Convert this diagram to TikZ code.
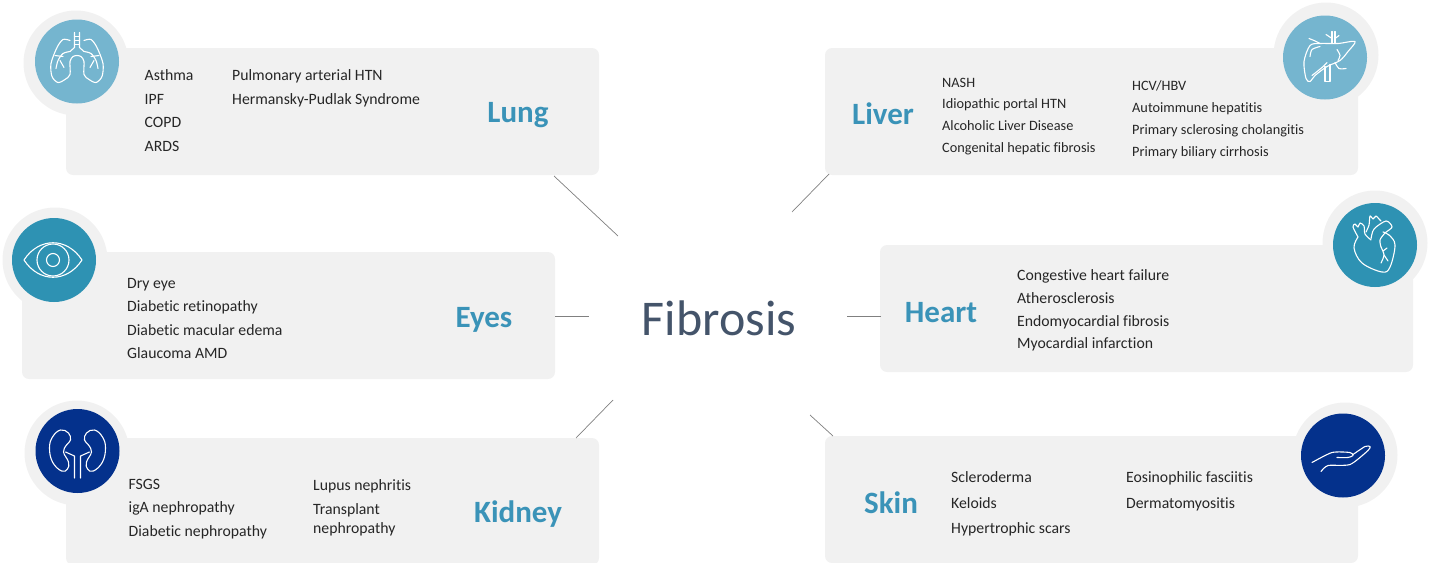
\documentclass[tikz,border=0pt]{standalone}
\usepackage{fontspec}
\setmainfont[Ligatures=NoCommon]{Carlito}
\usepackage{xcolor}
\usepackage{tikz}
\definecolor{panelgrey}{HTML}{F1F1F1}
\definecolor{lightteal}{HTML}{75B5CF}
\definecolor{midteal}{HTML}{2E92B3}
\definecolor{deepblue}{HTML}{04318C}
\definecolor{organblue}{HTML}{3A93B8}
\definecolor{slatetext}{HTML}{44546A}
\definecolor{itemtext}{HTML}{262626}
\tikzset{
  panel/.style   = {rounded corners=7pt, fill=panelgrey, draw=none, inner sep=0pt,
                    minimum width=533pt, minimum height=127pt},
  halo/.style    = {circle, fill=panelgrey, draw=none, inner sep=0pt, minimum size=105pt},
  disc/.style    = {circle, draw=none, inner sep=0pt, minimum size=84pt},
  icon/.style    = {draw=white, line width=1.1pt, line join=round, line cap=round},
  item/.style    = {anchor=west, inner sep=0pt, text=itemtext, text height=10pt, text depth=3pt,
                    font=\fontsize{15.75}{18}\selectfont},
  itemsm/.style  = {item, font=\fontsize{14.3}{17}\selectfont},
  organ/.style   = {inner sep=0pt, text=organblue, font=\fontsize{31}{36}\selectfont\bfseries},
  spoke/.style   = {draw=black!50, line width=0.7pt},
}
\begin{document}
\begin{tikzpicture}[x=1pt,y=-1pt]
  \useasboundingbox (0,0) rectangle (1431,562);
  \clip (0,0) rectangle (1431,562);
  % panels
  \node[panel] (lungbox)   at (332.5,111.5) {};
  \node[panel] (liverbox)  at (1091.5,111.5) {};
  \node[panel] (eyesbox)   at (288.5,315.5) {};
  \node[panel] (heartbox)  at (1146.5,308.5) {};
  \node[panel] (kidneybox) at (332.5,501.5) {};
  \node[panel] (skinbox)   at (1091.5,499.5) {};
  % discs
  \node[halo] (lunghalo)   at (76,63) {};
  \node[halo] (liverhalo)  at (1326,55) {};
  \node[halo] (eyeshalo)   at (55,260) {};
  \node[halo] (hearthalo)  at (1375,243) {};
  \node[halo] (kidneyhalo) at (77,453) {};
  \node[halo] (skinhalo)   at (1345,455) {};
  \node[disc, fill=lightteal] (lungdisc)   at (77,61.5) {};
  \node[disc, fill=lightteal] (liverdisc)  at (1325,57.5) {};
  \node[disc, fill=midteal]   (eyesdisc)   at (54,260) {};
  \node[disc, fill=midteal]   (heartdisc)  at (1375,245) {};
  \node[disc, fill=deepblue]  (kidneydisc) at (77.5,451) {};
  \node[disc, fill=deepblue]  (skindisc)   at (1343,455.5) {};
  % lung icon
  \begin{scope}[shift={(lungdisc.center)}, icon]
    \foreach \s in {1,-1} {
      \begin{scope}[xscale=\s]
        \draw plot[smooth] coordinates {(-7,-21) (-14,-22) (-20,-14) (-26,2) (-25,15) (-19,21) (-12,18) (-7,13) (-7,0) (-4,-5) (0,-6)};
        \draw (-2.5,-29) -- (-2.5,-14) -- (-7,-10);
        \draw plot[smooth] coordinates {(-7,-10) (-14,-8) (-19,-1) (-21,7)};
        \draw (-14,-5) -- (-22,-6);
        \draw (-17,-1) -- (-13,6);
      \end{scope}
    }
    \draw (-2.5,-25) -- (2.5,-25) (-2.5,-21) -- (2.5,-21) (-2.5,-17) -- (2.5,-17);
  \end{scope}
  % liver icon
  \begin{scope}[shift={(liverdisc.center)}, icon]
    \draw plot[smooth cycle, tension=0.5] coordinates {(30,-16) (13,-14) (-5,-14) (-15,-12) (-21,4) (-19,21) (-15,24) (-10,18) (2,9) (15,3) (23,-6)};
    \draw plot[smooth] coordinates {(-16,-19) (-11,-17) (-5,-14)};
    \draw plot[smooth] coordinates {(-5,-11) (-13,-8) (-15,-1)};
    \draw plot[smooth] coordinates {(-13,18) (-3,10) (2,5)};
    \draw (7,-14) -- (7,-26) (10,-14) -- (10,-26);
    \draw (7,-19) -- (1,-23) (10,-19) -- (14,-22);
    \draw (0,9) -- (0,24) -- (5,24) -- (5,7);
    \draw plot[smooth] coordinates {(10,5) (14,11) (21,11)};
    \draw plot[smooth] coordinates {(12,-8) (15,-2) (13,3)};
  \end{scope}
  % eye icon
  \begin{scope}[shift={(eyesdisc.center)}, icon]
    \draw (-30,0) .. controls (-15,-23) and (13,-23) .. (28,0) .. controls (13,23) and (-15,23) .. (-30,0) -- cycle;
    \draw (-1,0) circle (16);
    \draw (-1,0) circle (6.5);
  \end{scope}
  % heart icon
  \begin{scope}[shift={(heartdisc.center)}, icon]
    \draw plot[smooth, tension=0.6] coordinates {(-17,-8) (-21,3) (-13,18) (7,27) (15,22) (20,0) (14,-10) (8,-13)};
    \draw plot[smooth, tension=0.5] coordinates {(-4,-6) (-1,-16) (11,-24) (17,-18) (10,-12) (5,-5) (6,2)};
    \draw plot[smooth, tension=0.5] coordinates {(-17,-8) (-22,-18) (-20,-21) (-17,-18) (-15,-22) (-11,-19) (-10,-11) (-4,-5)};
    \draw plot[smooth, tension=0.5] coordinates {(-9,-13) (-6,-20) (-5,-29) (-2,-26) (1,-29) (4,-26) (6,-24)};
    \draw plot[smooth] coordinates {(6,2) (9,10) (6,18)};
    \draw (9,10) -- (13,16) (8,6) -- (12,3);
  \end{scope}
  % kidney icon
  \begin{scope}[shift={(kidneydisc.center)}, icon]
    \foreach \s in {1,-1} {
      \begin{scope}[xscale=\s]
        \draw plot[smooth cycle, tension=0.7] coordinates {(-17,-21) (-25,-14) (-28,-3) (-25,11) (-16,20) (-10,18) (-9,11) (-14,1) (-11,-6) (-7,-11) (-9,-18)};
        \draw (-3,27) -- (-3,5) -- (-12,1);
      \end{scope}
    }
  \end{scope}
  % hand icon
  \begin{scope}[shift={(skindisc.center)}, icon]
    \draw plot[smooth, tension=0.4] coordinates {(-31,7) (-11,-3) (7,-3) (10,0) (5,2) (-6,2)};
    \draw plot[smooth, tension=0.4] coordinates {(-22,16) (-15,10) (7,9) (25,-5) (27,-9) (22,-9) (10,-1)};
  \end{scope}
  % centre
  \node[inner sep=0pt, text=slatetext, font=\fontsize{50}{60}\selectfont] (fibrosis) at (719,318) {Fibrosis};
  % spokes
  \coordinate (lungfoot)   at (554,176);
  \coordinate (lungtip)    at (618,236);
  \coordinate (liverfoot)  at (829,174);
  \coordinate (livertip)   at (792,212);
  \coordinate (eyesfoot)   at (555,316);
  \coordinate (eyestip)    at (589,316);
  \coordinate (heartfoot)  at (881,316);
  \coordinate (hearttip)   at (847,316);
  \coordinate (kidneyfoot) at (576,438);
  \coordinate (kidneytip)  at (613,400);
  \coordinate (skinfoot)   at (833,436);
  \coordinate (skintip)    at (810,415);
  \draw[spoke] (lungfoot) -- (lungtip);
  \draw[spoke] (liverfoot) -- (livertip);
  \draw[spoke] (eyesfoot) -- (eyestip);
  \draw[spoke] (heartfoot) -- (hearttip);
  \draw[spoke] (kidneyfoot) -- (kidneytip);
  \draw[spoke] (skinfoot) -- (skintip);
  % lung
  \node[organ] (lung) at (518,115) {Lung};
  \node[item] (asthma) at (144.5,77) {Asthma};
  \node[item] (ipf)    at (144.5,100.5) {IPF};
  \node[item] (copd)   at (144.5,124) {COPD};
  \node[item] (ards)   at (144.5,147.5) {ARDS};
  \node[item] (pah)    at (232,77) {Pulmonary arterial HTN};
  \node[item] (hps)    at (232,101) {Hermansky-Pudlak Syndrome};
  % liver
  \node[organ] (liver) at (883,114) {Liver};
  \node[itemsm] (nash)  at (942,83.5) {NASH};
  \node[itemsm] (iph)   at (942,105) {Idiopathic portal HTN};
  \node[itemsm] (ald)   at (942,127) {Alcoholic Liver Disease};
  \node[itemsm] (chf)   at (942,149) {Congenital hepatic fibrosis};
  \node[itemsm] (hcv)   at (1132,86.5) {HCV/HBV};
  \node[itemsm] (aih)   at (1132,108.5) {Autoimmune hepatitis};
  \node[itemsm] (psc)   at (1132,130.5) {Primary sclerosing cholangitis};
  \node[itemsm] (pbc)   at (1132,152.5) {Primary biliary cirrhosis};
  % eyes
  \node[organ] (eyes) at (484,320) {Eyes};
  \node[item] (dry)  at (127,284.5) {Dry eye};
  \node[item] (dr)   at (127,307.5) {Diabetic retinopathy};
  \node[item] (dme)  at (127,331.5) {Diabetic macular edema};
  \node[item] (amd)  at (127,354.5) {Glaucoma AMD};
  % heart
  \node[organ] (heart) at (941,313) {Heart};
  \node[item] (chfail) at (1017,276.5) {Congestive heart failure};
  \node[item] (ath)    at (1017,299.5) {Atherosclerosis};
  \node[item] (emf)    at (1017,322.5) {Endomyocardial fibrosis};
  \node[item] (mi)     at (1017,345) {Myocardial infarction};
  % kidney
  \node[organ] (kidney) at (518,514) {Kidney};
  \node[item] (fsgs) at (128.5,485.5) {FSGS};
  \node[item] (iga)  at (128.5,508.5) {igA nephropathy};
  \node[item] (dn)   at (128.5,532.5) {Diabetic nephropathy};
  \node[item] (lupus) at (313,486.5) {Lupus nephritis};
  \node[item] (trans) at (313,510.5) {Transplant};
  \node[item] (neph)  at (313,529.5) {nephropathy};
  % skin
  \node[organ] (skin) at (891,503) {Skin};
  \node[item] (scl) at (951,479) {Scleroderma};
  \node[item] (kel) at (951,504.5) {Keloids};
  \node[item] (hts) at (951,530) {Hypertrophic scars};
  \node[item] (eos) at (1126,479) {Eosinophilic fasciitis};
  \node[item] (der) at (1126,504.5) {Dermatomyositis};
\end{tikzpicture}
\end{document}
